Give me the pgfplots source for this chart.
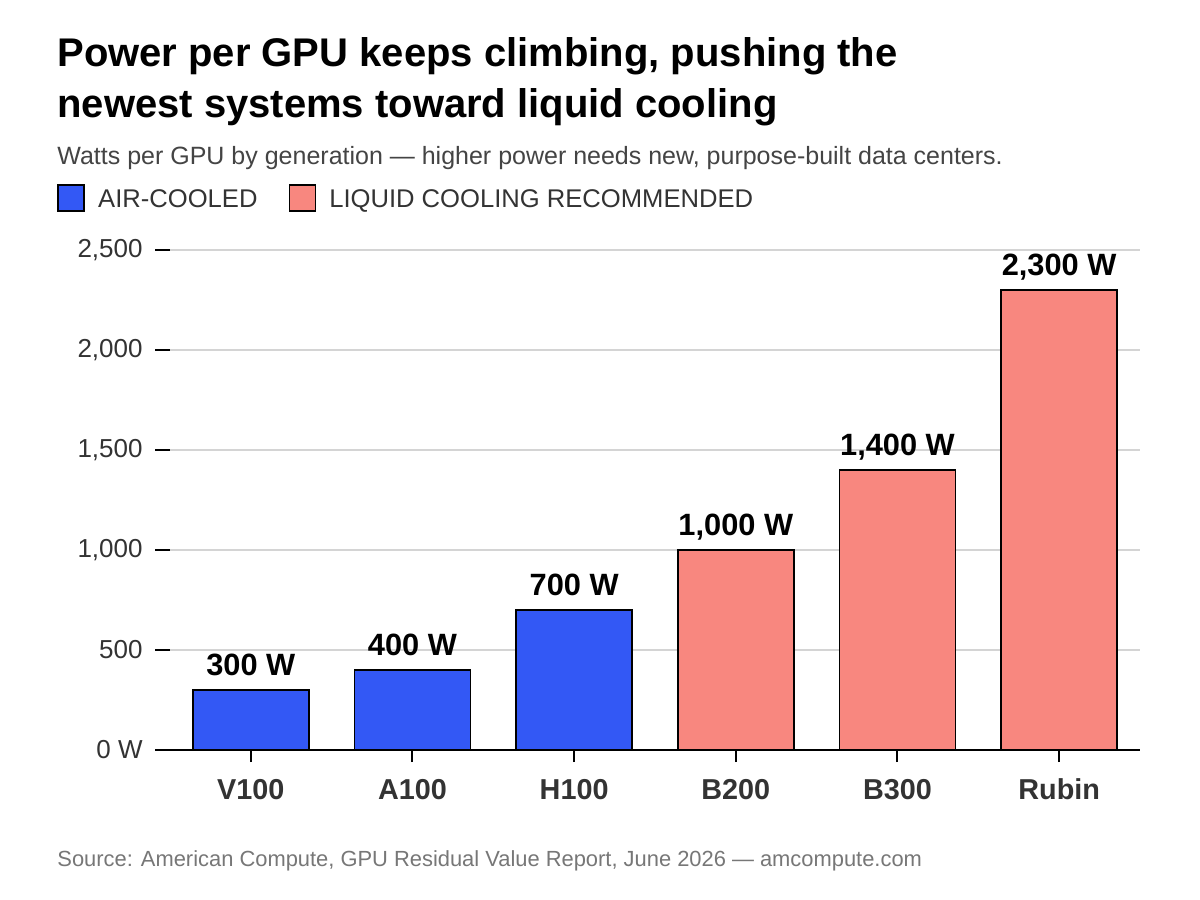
\documentclass[border=0pt]{standalone}
\usepackage{pgfplots}
\pgfplotsset{compat=1.18}
\usepackage{fontspec}
\setmainfont{Liberation Sans}
\definecolor{airblue}{HTML}{3358F5}
\definecolor{liquid}{HTML}{F8877F}
\definecolor{gridgray}{HTML}{D4D4D4}
\definecolor{subgray}{HTML}{444444}
\definecolor{tickgray}{HTML}{333333}
\definecolor{srcgray}{HTML}{777777}
\begin{document}
\begin{tikzpicture}
\useasboundingbox[fill=white] (0,0) rectangle (600pt,-450pt);
\node[anchor=base west, inner sep=0pt, font=\fontsize{20pt}{24pt}\selectfont\bfseries] at (28.5pt,-33pt) {Power per GPU keeps climbing, pushing the};
\node[anchor=base west, inner sep=0pt, font=\fontsize{20pt}{24pt}\selectfont\bfseries] at (28.5pt,-58.5pt) {newest systems toward liquid cooling};
\node[anchor=base west, inner sep=0pt, text=subgray, font=\fontsize{12.5pt}{15pt}\selectfont] at (28.5pt,-82pt) {Watts per GPU by generation — higher power needs new, purpose-built data centers.};
\node[anchor=base west, inner sep=0pt, text=srcgray, font=\fontsize{10.95pt}{13pt}\selectfont] at (28.5pt,-433pt) {Source: American Compute, GPU Residual Value Report, June 2026 — amcompute.com};
\begin{axis}[
  at={(85pt,-375pt)}, anchor=south west,
  width=485pt, height=250pt, scale only axis,
  xmin=-0.5, xmax=5.5, ymin=0, ymax=2500,
  axis x line=bottom, axis y line=left,
  x axis line style={-, black, line width=1pt},
  y axis line style={draw=none},
  xtick={0,1,2,3,4,5},
  xticklabels={V100,A100,H100,B200,B300,Rubin},
  ytick={0,500,1000,1500,2000,2500},
  yticklabels={{0 W},{500},{1,000},{1,500},{2,000},{2,500}},
  tick align=outside,
  major tick length=7.5pt,
  x tick style={black, line width=1pt},
  y tick style={black, line width=1pt},
  xtick style={/pgfplots/major tick length=6pt},
  ymajorgrids, grid style={gridgray, line width=0.7pt},
  /pgf/number format/assume math mode=true,
  xticklabel style={font=\fontsize{14.4pt}{16pt}\selectfont\bfseries, text=tickgray, inner sep=0pt, anchor=base, yshift=-17pt},
  yticklabel style={font=\fontsize{13pt}{15pt}\selectfont, text=tickgray, inner sep=0pt, anchor=east, xshift=-6pt},
  ybar, bar shift=0pt, bar width=58pt,
  clip=false,
  point meta=explicit symbolic,
  nodes near coords,
  nodes near coords style={font=\fontsize{15.4pt}{17pt}\selectfont\bfseries, text=black, anchor=base, inner sep=0pt, yshift=7.5pt},
  legend columns=-1,
  legend image code/.code={\draw[#1, line width=0.9pt] (0pt,-5.25pt) rectangle (13pt,7.75pt);},
  legend style={at={(-0.1165,1.104)}, anchor=west, draw=none, fill=none, inner sep=0pt,
    font=\fontsize{12.8pt}{15pt}\selectfont, text=tickgray,
    nodes={inner sep=0pt},
    /tikz/every odd column/.append style={column sep=6.5pt},
    /tikz/every even column/.append style={column sep=15.5pt}},
  legend cell align=left,
]
\addplot[fill=airblue, draw=black, line width=0.8pt] coordinates {(0,300) [300 W] (1,400) [400 W] (2,700) [700 W]};
\addlegendentry{AIR-COOLED}
\addplot[fill=liquid, draw=black, line width=0.8pt] coordinates {(3,1000) [1,000 W] (4,1400) [1,400 W] (5,2300) [2,300 W]};
\addlegendentry{LIQUID COOLING RECOMMENDED}
\end{axis}
\end{tikzpicture}
\end{document}
